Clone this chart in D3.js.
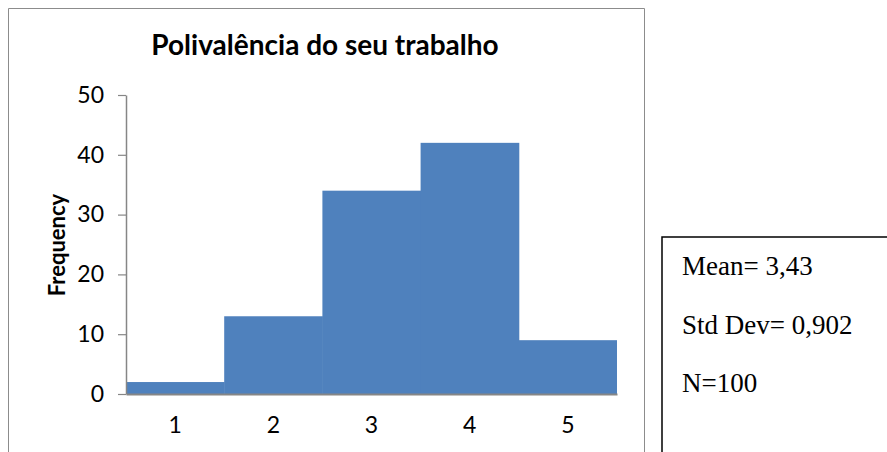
<!DOCTYPE html>
<html><head><meta charset="utf-8">
<script src="https://cdn.jsdelivr.net/npm/d3@7"></script>
<style>body{margin:0;background:#fff}svg{display:block}</style>
</head><body>
<svg id="c" width="887" height="452"></svg>
<script>
const categories = ["1","2","3","4","5"];
const frequencies = [2, 13, 34, 42, 9];
const yTicks = [0, 10, 20, 30, 40, 50];
const title = "Polivalência do seu trabalho";
const yLabel = "Frequency";
const statsLines = ["Mean= 3,43", "Std Dev= 0,902", "N=100"];

(function(){
const svg = d3.select("#c");
// chart frame
svg.append("path").attr("d","M8.5,460 V8.5 H644.5 V460")
  .attr("fill","none").attr("stroke","#8c8c8c").attr("stroke-width",1);

const pLeft = 126, pRight = 617, pTop = 95, pBottom = 394;
const x = d3.scaleBand().domain(categories).range([pLeft, pRight]).padding(0);
const y = d3.scaleLinear().domain([0, 50]).range([pBottom, pTop]);

svg.append("g").selectAll("rect").data(frequencies).join("rect")
  .attr("x",(d,i)=>x(categories[i]))
  .attr("y",d=>y(d))
  .attr("width",(d,i)=> i < categories.length-1 ? x.bandwidth()+0.5 : x.bandwidth())
  .attr("height",d=>pBottom-y(d))
  .attr("fill","#4f81bd");

const sans = "Lato, 'Open Sans', sans-serif";
// y axis
const ya = svg.append("g").attr("transform",`translate(${pLeft},0)`)
  .call(d3.axisLeft(y).tickValues(yTicks).tickSize(8).tickPadding(14).tickSizeOuter(0));
ya.select(".domain").attr("stroke","#868686").attr("stroke-width",1.5);
ya.selectAll(".tick line").attr("stroke","#868686").attr("stroke-width",1.2);
ya.selectAll(".tick text").attr("font-family",sans).attr("font-size",23).attr("fill","#000");

// x axis
const xa = svg.append("g").attr("transform",`translate(0,${pBottom})`)
  .call(d3.axisBottom(x).tickSize(0).tickPadding(23).tickSizeOuter(0));
xa.select(".domain").attr("stroke","#868686").attr("stroke-width",2);
xa.selectAll(".tick text").attr("font-family",sans).attr("font-size",23).attr("fill","#000");

// title
svg.append("text").attr("x",325).attr("y",55).attr("text-anchor","middle")
  .attr("font-family",sans).attr("font-weight","bold")
  .attr("font-size",28).text(title);

// y label
svg.append("text").attr("transform","translate(65,245) rotate(-90)").attr("text-anchor","middle")
  .attr("font-family",sans).attr("font-weight","bold")
  .attr("font-size",22).text(yLabel);

// stats box
svg.append("path").attr("d","M662,460 V237 H890").attr("fill","none")
  .attr("stroke","#000").attr("stroke-width",1.5);
svg.append("g").selectAll("text").data(statsLines).join("text")
  .attr("x",682).attr("y",(d,i)=>275+i*58.5)
  .attr("font-family","'Liberation Serif', 'Times New Roman', serif")
  .attr("font-size",27).attr("fill","#000").text(d=>d);
})();
</script>
</body></html>
